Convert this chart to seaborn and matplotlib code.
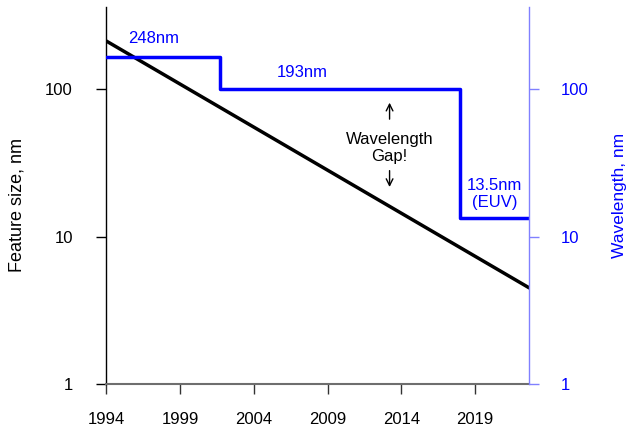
import matplotlib
matplotlib.use("Agg")
import matplotlib.pyplot as plt
import seaborn as sns
import pandas as pd

# Data
feature_years = [1994, 2022.67]
feature_size = [212, 4.5]
wl_years = [1994, 2001.7, 2018.0, 2022.67]
wl_values = [165, 100, 13.5, 13.5]
xticks = [1994, 1999, 2004, 2009, 2014, 2019]
yticks = [1, 10, 100]
ytick_labels = ["1", "10", "100"]

sns.set_style("ticks")
plt.rcParams['font.family'] = ['Liberation Sans', 'DejaVu Sans']
plt.rcParams['font.size'] = 12
plt.rcParams['text.color'] = 'black'
plt.rcParams['axes.labelcolor'] = 'black'

fig = plt.figure(figsize=(6.28, 4.28), dpi=100)
ax = fig.add_axes([0.1693, 0.1021, 0.8428 - 0.1693, 0.983 - 0.1021])

df_f = pd.DataFrame({"year": feature_years, "size": feature_size})
df_w = pd.DataFrame({"year": wl_years, "wl": wl_values})

sns.lineplot(data=df_f, x="year", y="size", ax=ax, color="black", linewidth=2.5)
ax.set_yscale("log")
ax.set_xlim(1994, 2022.67)
ax.set_ylim(1, 359)
ax.set_xticks(xticks)
ax.set_xticklabels([str(t) for t in xticks])
ax.set_yticks(yticks)
ax.set_yticklabels(ytick_labels)
ax.yaxis.set_minor_locator(matplotlib.ticker.NullLocator())
ax.set_xlabel("")
ax.set_ylabel("Feature size, nm", fontsize=13, color="black")
ax.yaxis.set_label_coords(-0.19, 0.475)
ax.tick_params(axis="y", length=7, width=1, color="black", labelcolor="black",
               pad=17, labelsize=12)
ax.tick_params(axis="x", length=7, width=1, color="#333333", labelcolor="black",
               pad=13, labelsize=12)
ax.spines["top"].set_visible(False)
ax.spines["right"].set_visible(False)
ax.spines["left"].set_color("black")
ax.spines["left"].set_linewidth(1)
ax.spines["bottom"].set_color("#6e6e6e")
ax.spines["bottom"].set_linewidth(1.5)

ax2 = ax.twinx()
sns.lineplot(data=df_w, x="year", y="wl", ax=ax2, color="#0000ff", linewidth=2.5,
             drawstyle="steps-post")
ax2.set_yscale("log")
ax2.set_ylim(1, 359)
ax2.set_xlim(1994, 2022.67)
ax2.set_yticks(yticks)
ax2.set_yticklabels(ytick_labels)
ax2.yaxis.set_minor_locator(matplotlib.ticker.NullLocator())
ax2.set_ylabel("Wavelength, nm", color="#0000ff", fontsize=12.5)
ax2.yaxis.set_label_coords(1.195, 0.5)
ax2.tick_params(axis="y", length=7, width=1, color="#8080ff", labelcolor="#0000ff",
                pad=16, labelsize=12)
for s in ["top", "left", "bottom"]:
    ax2.spines[s].set_visible(False)
ax2.spines["right"].set_color("#8080ff")
ax2.spines["right"].set_linewidth(1)
ax2.set_xlabel("")

ax2.text(1997.2, 219, "248nm", color="#0000ff", ha="center", va="center", fontsize=12)
ax2.text(2007.3, 129, "193nm", color="#0000ff", ha="center", va="center", fontsize=12)
ax2.text(2020.3, 19.5, "13.5nm\n(EUV)", color="#0000ff", ha="center", va="center",
         fontsize=12, linespacing=1.2)
ax2.text(2013.2, 40.1, "Wavelength\nGap!", color="black", ha="center", va="center",
         fontsize=12, linespacing=1.2)
ax2.annotate("", xy=(2013.2, 84.6), xytext=(2013.2, 60),
             arrowprops=dict(arrowstyle="->", color="black", lw=1))
ax2.annotate("", xy=(2013.2, 20.8), xytext=(2013.2, 29.3),
             arrowprops=dict(arrowstyle="->", color="black", lw=1))

fig.savefig("out.png", dpi=100)
